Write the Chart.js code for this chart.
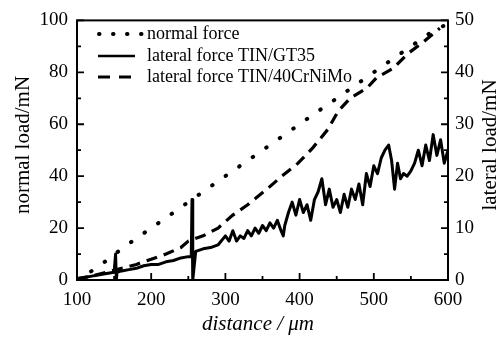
<!DOCTYPE html>
<html>
<head>
<meta charset="utf-8">
<script src="https://cdn.jsdelivr.net/npm/chart.js@4.4.0/dist/chart.umd.min.js"></script>
<style>
  html, body { margin: 0; padding: 0; background: #fff; }
  #wrap { width: 503px; height: 337px; }
</style>
</head>
<body>
<div id="wrap"><canvas id="c"></canvas></div>
<script>
// normal force (left axis, mN)
const normalX = [100, 120, 140, 160, 180, 200, 220, 240, 260, 280, 300, 320, 340, 360, 380, 400, 420, 440, 460, 480, 500, 520, 540, 560, 580, 595];
const normalY = [0, 3.5, 7.5, 12, 16, 20, 24, 28, 32, 36, 40, 44, 48, 52, 56, 60, 64, 68, 72, 76, 80, 84, 88, 92, 96, 98];

// lateral force TIN/GT35 (right axis, mN)
const gt35X = [100, 110, 120, 130, 140, 150, 152, 153, 154, 160, 170, 180, 190, 200, 210, 220, 230, 240, 250, 254, 255, 256, 260, 270, 280, 290,
  300, 305, 310, 315, 320, 325, 330, 335, 340, 345, 350, 355, 360, 365, 370, 375, 378, 380, 385, 390, 395, 400, 405, 410, 415, 420, 425, 430,
  435, 440, 445, 450, 455, 460, 465, 470, 475, 480, 485, 490, 495, 500, 505, 510, 515, 520, 524, 528, 532, 536, 540, 545, 550, 555, 560, 565,
  570, 575, 580, 585, 590, 595, 600];
const gt35Y = [0.25, 0.5, 0.75, 1, 1.25, 1.5, 5, 0, 1.5, 1.75, 2, 2.25, 2.75, 3, 3, 3.5, 3.75, 4.25, 4.5, 4.5, 15.5, 0, 5.5, 6, 6.25, 6.75,
  8.5, 7.5, 9.5, 7.5, 8.5, 8, 9.5, 8.5, 10, 9, 10.5, 9.5, 11, 10, 11.5, 9.5, 8.5, 10.5, 13, 15, 12.5, 15.5, 13, 14.5, 11.5, 15.5, 17, 19.5,
  14.5, 17.5, 14, 15.5, 13, 16.5, 14, 17.5, 15.5, 18.5, 14.5, 20.5, 18, 22, 20.5, 23.5, 25, 26, 23, 17.5, 22.5, 19.5, 20.5, 20, 21, 22.5, 25, 22,
  26, 23, 28, 24, 27, 22.5, 25];

// lateral force TIN/40CrNiMo (right axis, mN)
const crX = [100, 120, 140, 160, 180, 200, 220, 240, 250, 270, 290, 310, 330, 356, 376, 398, 418, 438, 452, 468, 491, 504, 526, 545, 566, 589];
const crY = [0.25, 0.75, 1.5, 2.25, 3, 4, 5, 6.25, 7.5, 8.5, 10, 12.5, 14.5, 17.5, 20, 22.5, 25.5, 29, 32.5, 35, 37, 39, 40.75, 43.5, 45.75, 48.5];

const xTicks = [100, 200, 300, 400, 500, 600];
const legendLabels = ['normal force', 'lateral force TIN/GT35', 'lateral force TIN/40CrNiMo'];

const toPoints = (xs, ys) => xs.map((x, i) => ({ x: x, y: ys[i] }));

const SERIF = "'Liberation Serif', 'Times New Roman', serif";

// frame, inward ticks, legend and axis titles
const decorPlugin = {
  id: 'decor',
  afterDraw(chart) {
    const ctx = chart.ctx;
    const a = chart.chartArea;
    const sx = chart.scales.x, sy = chart.scales.y, sy1 = chart.scales.y1;
    ctx.save();
    ctx.strokeStyle = '#000';
    ctx.lineWidth = 2;
    ctx.strokeRect(a.left, a.top, a.right - a.left, a.bottom - a.top);

    ctx.lineWidth = 1.8;
    ctx.beginPath();
    for (let v = sx.min; v <= sx.max; v += 50) {
      const px = sx.getPixelForValue(v);
      const len = v % 100 === 0 ? 7 : 4;
      ctx.moveTo(px, a.bottom); ctx.lineTo(px, a.bottom - len);
    }
    for (let v = sy.min; v <= sy.max; v += 10) {
      const py = sy.getPixelForValue(v);
      const len = v % 20 === 0 ? 7 : 4;
      ctx.moveTo(a.left, py); ctx.lineTo(a.left + len, py);
    }
    for (let v = sy1.min; v <= sy1.max; v += 5) {
      const py = sy1.getPixelForValue(v);
      const len = v % 10 === 0 ? 7 : 4;
      ctx.moveTo(a.right, py); ctx.lineTo(a.right - len, py);
    }
    ctx.stroke();

    // legend
    const rows = [34, 56, 77];
    ctx.lineCap = 'round';
    ctx.lineWidth = 4; ctx.setLineDash([0.5, 13.5]);
    ctx.beginPath(); ctx.moveTo(99, rows[0]); ctx.lineTo(142, rows[0]); ctx.stroke();
    ctx.lineCap = 'butt';
    ctx.lineWidth = 2.5; ctx.setLineDash([]);
    ctx.beginPath(); ctx.moveTo(98, rows[1]); ctx.lineTo(135, rows[1]); ctx.stroke();
    ctx.lineWidth = 3; ctx.setLineDash([12, 9]);
    ctx.beginPath(); ctx.moveTo(98, rows[2]); ctx.lineTo(132, rows[2]); ctx.stroke();
    ctx.setLineDash([]);
    ctx.fillStyle = '#000';
    ctx.font = '18px ' + SERIF;
    ctx.textBaseline = 'middle';
    ctx.textAlign = 'left';
    legendLabels.forEach((t, i) => ctx.fillText(t, 147, rows[i]));

    // axis titles
    ctx.font = '21px ' + SERIF;
    ctx.textAlign = 'center';
    ctx.save();
    ctx.translate(23, 145); ctx.rotate(-Math.PI / 2);
    ctx.fillText('normal load/mN', 0, 0);
    ctx.restore();
    ctx.save();
    ctx.translate(490, 145); ctx.rotate(-Math.PI / 2);
    ctx.fillText('lateral load/mN', 0, 0);
    ctx.restore();
    ctx.font = 'italic 21px ' + SERIF;
    ctx.fillText('distance / \u03bcm', 258, 324);
    ctx.restore();
  }
};

new Chart(document.getElementById('c'), {
  type: 'line',
  data: {
    datasets: [
      {
        label: legendLabels[0], data: toPoints(normalX, normalY), yAxisID: 'y',
        borderColor: '#000', borderWidth: 4, borderDash: [0.5, 16], borderCapStyle: 'round',
        pointRadius: 0, tension: 0
      },
      {
        label: legendLabels[1], data: toPoints(gt35X, gt35Y), yAxisID: 'y1',
        borderColor: '#000', borderWidth: 3, borderJoinStyle: 'round', pointRadius: 0, tension: 0
      },
      {
        label: legendLabels[2], data: toPoints(crX, crY), yAxisID: 'y1',
        borderColor: '#000', borderWidth: 3.2, borderDash: [11, 7],
        pointRadius: 0, tension: 0
      }
    ]
  },
  options: {
    responsive: true,
    maintainAspectRatio: false,
    animation: false,
    layout: { padding: { top: 19, left: 0, right: 0, bottom: 0 } },
    plugins: { legend: { display: false }, tooltip: { enabled: false } },
    scales: {
      x: {
        type: 'linear', min: 100, max: 600,
        afterFit(s) { s.height = 57; },
        afterBuildTicks(s) { s.ticks = xTicks.map(v => ({ value: v })); },
        grid: { display: false, drawTicks: false },
        border: { display: false },
        ticks: { color: '#000', padding: 9, maxRotation: 0, font: { family: SERIF, size: 19 } }
      },
      y: {
        position: 'left', min: 0, max: 100,
        afterFit(s) { s.width = 77; },
        grid: { display: false, drawTicks: false },
        border: { display: false },
        ticks: { color: '#000', stepSize: 20, padding: 9, font: { family: SERIF, size: 19 } }
      },
      y1: {
        position: 'right', min: 0, max: 50,
        afterFit(s) { s.width = 55; },
        grid: { display: false, drawTicks: false },
        border: { display: false },
        ticks: { color: '#000', stepSize: 10, padding: 7, font: { family: SERIF, size: 19 } }
      }
    }
  },
  plugins: [decorPlugin]
});
</script>
</body>
</html>
